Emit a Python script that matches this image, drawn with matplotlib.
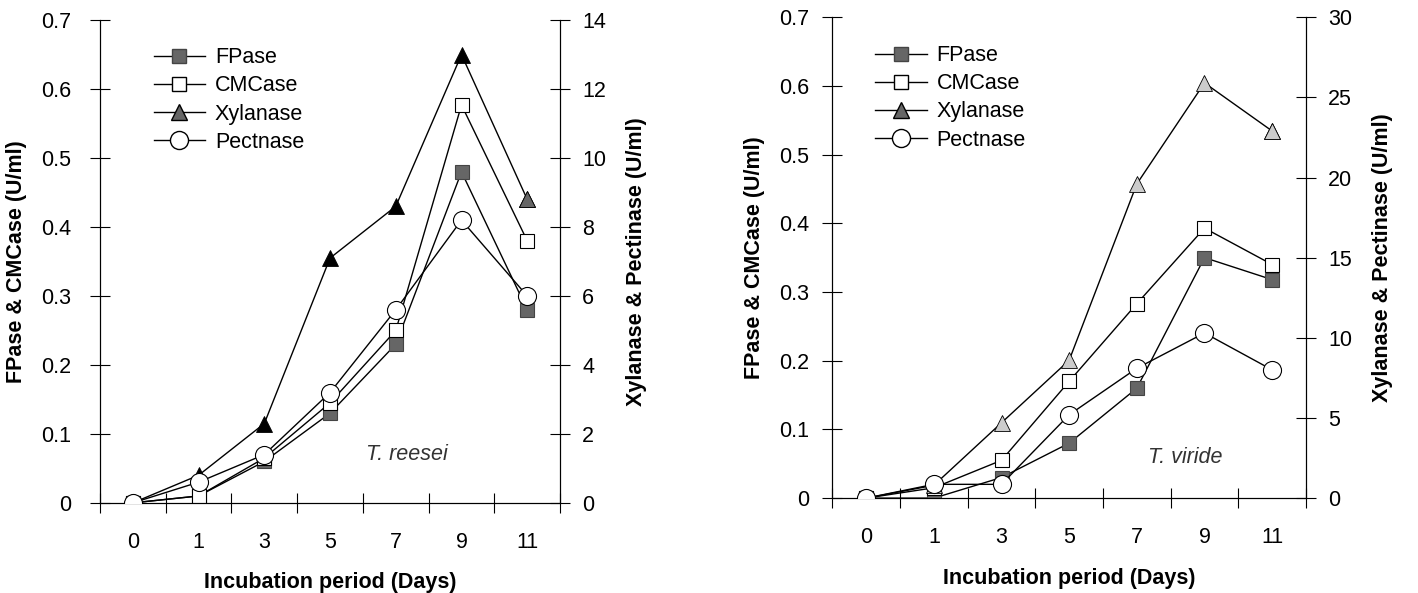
import numpy as np
import matplotlib
matplotlib.use("Agg")
import matplotlib.pyplot as plt

plt.rcParams['font.family'] = ['Liberation Sans', 'DejaVu Sans']

days = ["0", "1", "3", "5", "7", "9", "11"]

# T. reesei
reesei_fpase = [0, 0.01, 0.06, 0.13, 0.23, 0.48, 0.28]
reesei_cmcase = [0, 0.01, 0.065, 0.145, 0.25, 0.577, 0.38]
reesei_xylanase = [0, 0.8, 2.3, 7.1, 8.6, 13.0, 8.8]
reesei_pectinase = [0, 0.6, 1.4, 3.2, 5.6, 8.2, 6.0]

# T. viride
viride_fpase = [0, 0.0, 0.03, 0.08, 0.16, 0.35, 0.318]
viride_cmcase = [0, 0.015, 0.055, 0.17, 0.283, 0.393, 0.34]
viride_xylanase = [0, 0.8, 4.7, 8.6, 19.6, 25.9, 22.9]
viride_pectinase = [0, 0.86, 0.86, 5.2, 8.1, 10.3, 8.0]

FS = 15.5


def draw_panel(fig, rect, fp, cm, xy, pe, right_max, right_step, xy_color, last_xy_color,
               name, name_pos, leg_pos, lpad):
    ax = fig.add_axes(rect)
    ax2 = ax.twinx()
    x = np.arange(len(days))
    lw = 1.0
    ax.plot(x, fp, color="black", lw=lw, marker="s", ms=10, mfc="#666666",
            mec="#444444", mew=0.8, zorder=3)
    ax.plot(x, cm, color="black", lw=lw, marker="s", ms=10, mfc="white",
            mec="black", mew=0.8, zorder=3)
    ax2.plot(x, xy, color="black", lw=lw, marker="^", ms=11, mfc=xy_color,
             mec="black", mew=0.6, zorder=3)
    # last triangle is drawn in grey in the original
    ax2.plot(x[-1:], xy[-1:], ls="none", marker="^", ms=11, mfc=last_xy_color,
             mec="black", mew=0.6, zorder=3)
    ax2.plot(x, pe, color="black", lw=lw, marker="o", ms=13, mfc="white",
             mec="black", mew=0.8, zorder=4)

    ax.set_xlim(-0.5, len(days) - 0.5)
    ax.set_ylim(0, 0.7)
    ax2.set_ylim(0, right_max)
    ax.set_yticks(np.arange(0, 0.71, 0.1))
    ax.set_yticklabels(["0"] + ["%.1f" % v for v in np.arange(0.1, 0.71, 0.1)])
    ax2.set_yticks(np.arange(0, right_max + 0.1, right_step))

    ax.set_xticks(np.arange(-0.5, len(days), 1.0))
    ax.set_xticklabels([])
    ax.set_xticks(x, minor=True)
    ax.set_xticklabels(days, minor=True)
    ax.tick_params(axis="x", which="major", direction="inout", length=14, width=0.8)
    ax.tick_params(axis="x", which="minor", length=0, pad=21, labelsize=FS)
    ax.tick_params(axis="y", direction="inout", length=14, width=0.8, labelsize=FS, pad=lpad)
    ax2.tick_params(axis="y", direction="inout", length=14, width=0.8, labelsize=FS, pad=9)

    for a in (ax, ax2):
        a.spines["top"].set_visible(False)
        for s in ("left", "right", "bottom"):
            a.spines[s].set_linewidth(0.8)

    ax.set_xlabel("Incubation period (Days)", fontsize=FS, fontweight="bold", labelpad=14)
    ax.set_ylabel("FPase & CMCase (U/ml)", fontsize=FS, fontweight="bold", labelpad=10)
    ax2.set_ylabel("Xylanase & Pectinase (U/ml)", fontsize=FS, fontweight="bold", labelpad=14)

    handles = [
        plt.Line2D([], [], color="black", lw=lw, marker="s", ms=10, mfc="#666666", mec="#444444"),
        plt.Line2D([], [], color="black", lw=lw, marker="s", ms=10, mfc="white", mec="black"),
        plt.Line2D([], [], color="black", lw=lw, marker="^", ms=11, mfc="#666666", mec="black"),
        plt.Line2D([], [], color="black", lw=lw, marker="o", ms=13, mfc="white", mec="black"),
    ]
    ax.legend(handles, ["FPase", "CMCase", "Xylanase", "Pectnase"], loc="upper left",
              bbox_to_anchor=leg_pos, frameon=False, fontsize=FS,
              handlelength=2.4, handletextpad=0.45, labelspacing=0.33, borderpad=0)
    ax.text(name_pos[0], name_pos[1], name, transform=ax.transAxes, fontsize=FS,
            style="italic", color="#333333", ha="center", va="center")
    return ax


fig = plt.figure(figsize=(14.18, 5.93), dpi=100)
draw_panel(fig, [0.0705, 0.152, 0.3245, 0.814], reesei_fpase, reesei_cmcase,
           reesei_xylanase, reesei_pectinase, 14, 2, "black", "#666666",
           "T. reesei", (0.667, 0.10), (0.093, 0.966), 14)
draw_panel(fig, [0.587, 0.160, 0.334, 0.811], viride_fpase, viride_cmcase,
           viride_xylanase, viride_pectinase, 30, 5, "#cccccc", "#cccccc",
           "T. viride", (0.745, 0.085), (0.068, 0.964), 10)
fig.savefig("out.png", dpi=100)
